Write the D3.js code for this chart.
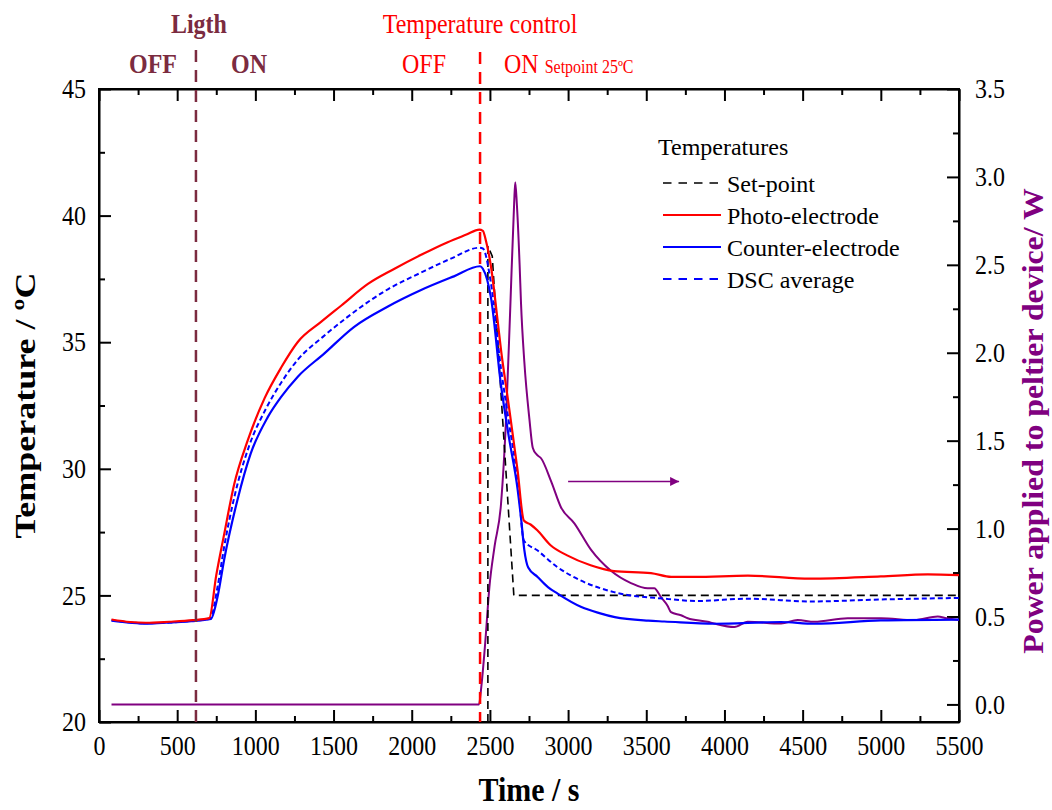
<!DOCTYPE html>
<html>
<head>
<meta charset="utf-8">
<script src="https://cdn.jsdelivr.net/npm/d3@7"></script>
<style>
  html, body { margin: 0; padding: 0; background: #fff; }
  svg { display: block; font-family: "Liberation Serif", "Times New Roman", serif; }
</style>
</head>
<body>
<svg id="chart" width="1052" height="810"></svg>
<script>
// ---- Photo-electrode temperature (°C) ----
const photoTime = [80, 200, 300, 450, 600, 705, 750, 800, 865, 950, 1060, 1165, 1270, 1420, 1550, 1720, 1890, 2060, 2230, 2350, 2432, 2455, 2475, 2507, 2549, 2571, 2613, 2677, 2717, 2760, 2803, 2888, 2994, 3144, 3293, 3530, 3660, 3810, 4150, 4550, 5000, 5300, 5500];
const photoTemp = [24.05, 23.95, 23.92, 23.96, 24.02, 24.1, 25.8, 27.4, 29.4, 31.1, 32.8, 34.0, 35.0, 35.8, 36.45, 37.3, 37.9, 38.45, 38.95, 39.25, 39.45, 39.4, 39.0, 37.98, 35.87, 34.7, 32.84, 29.94, 27.96, 27.8, 27.57, 26.98, 26.58, 26.19, 25.96, 25.88, 25.73, 25.73, 25.78, 25.66, 25.75, 25.83, 25.8];

// ---- Counter-electrode temperature (°C) ----
const counterTime = [80, 200, 310, 450, 590, 715, 760, 800, 885, 970, 1080, 1165, 1270, 1440, 1630, 1845, 2060, 2270, 2437, 2455, 2507, 2571, 2620, 2677, 2700, 2720, 2745, 2805, 2871, 2933, 3085, 3200, 3299, 3512, 3615, 3935, 4360, 4575, 5000, 5500];
const counterTemp = [24.0, 23.92, 23.88, 23.93, 23.98, 24.07, 25.0, 26.4, 28.76, 30.6, 32.05, 32.84, 33.63, 34.55, 35.6, 36.4, 37.06, 37.6, 38.0, 37.9, 36.75, 33.3, 31.3, 29.2, 28.0, 26.8, 26.1, 25.73, 25.33, 25.07, 24.54, 24.3, 24.14, 24.0, 23.97, 23.88, 23.95, 23.88, 24.01, 24.04];

// ---- DSC average temperature (°C) ----
const dscTime = [80, 300, 600, 710, 760, 800, 870, 960, 1070, 1165, 1270, 1430, 1590, 1850, 2060, 2250, 2432, 2455, 2505, 2570, 2620, 2680, 2717, 2803, 2931, 3080, 3293, 3615, 3830, 4150, 4550, 5000, 5500];
const dscTemp = [24.02, 23.9, 24.0, 24.08, 25.4, 26.9, 29.0, 30.9, 32.4, 33.4, 34.3, 35.2, 36.0, 37.1, 37.75, 38.3, 38.73, 38.7, 37.4, 34.0, 31.9, 29.4, 27.17, 26.78, 26.12, 25.59, 25.13, 24.87, 24.78, 24.87, 24.76, 24.84, 24.9];

// ---- Set-point (°C) ----
const setTime = [2487, 2487, 2515, 2653, 5500];
const setTemp = [20, 38.8, 38.4, 25, 25];

// ---- Power applied to the peltier device (W) ----
const powerTime = [80, 2430, 2445, 2470, 2497, 2530, 2571, 2603, 2630, 2655, 2662, 2672, 2690, 2699, 2720, 2753, 2774, 2800, 2827, 2891, 2955, 3040, 3146, 3274, 3402, 3509, 3551, 3594, 3637, 3658, 3722, 3765, 3892, 3935, 4063, 4149, 4362, 4468, 4575, 4788, 5002, 5215, 5364, 5420, 5500];
const powerW = [0, 0, 0.1, 0.35, 0.67, 0.9, 1.14, 1.62, 2.25, 2.85, 2.97, 2.85, 2.5, 2.28, 1.95, 1.62, 1.46, 1.42, 1.40, 1.27, 1.12, 1.03, 0.88, 0.76, 0.69, 0.66, 0.66, 0.61, 0.56, 0.525, 0.507, 0.49, 0.47, 0.46, 0.44, 0.47, 0.46, 0.48, 0.47, 0.49, 0.49, 0.48, 0.5, 0.49, 0.48];

// ---- Axes ticks ----
const xMajor = [0, 500, 1000, 1500, 2000, 2500, 3000, 3500, 4000, 4500, 5000, 5500];
const xMinor = [250, 750, 1250, 1750, 2250, 2750, 3250, 3750, 4250, 4750, 5250];
const yMajor = [20, 25, 30, 35, 40, 45];
const yMinor = [22.5, 27.5, 32.5, 37.5, 42.5];
const pMajor = [0, 0.5, 1, 1.5, 2, 2.5, 3, 3.5];
const pMinor = [0.25, 0.75, 1.25, 1.75, 2.25, 2.75, 3.25];

// ---- Event markers ----
const lightSwitchTime = 620;
const controlSwitchTime = 2437;
const legendItems = ["Set-point", "Photo-electrode", "Counter-electrode", "DSC average"];

const C = {
  red: "#ff0000", blue: "#0000ff", purple: "#800080", maroon: "#7b2b40", black: "#000"
};

const svg = d3.select("#chart");
const L = 99, R = 959, T = 89, B = 722;
const TALL = 1.12; // vertical stretch of the serif lettering

const x = d3.scaleLinear().domain([0, 5500]).range([L, R]);
const y = d3.scaleLinear().domain([20, 45]).range([B, T]);
const yP = d3.scaleLinear().domain([-0.1, 3.5]).range([B, T]);

const zip = (ts, vs) => ts.map((t, i) => [t, vs[i]]);

// Axes
function styleAxis(g) {
  g.selectAll("path.domain").attr("stroke", "#000").attr("stroke-width", 2);
  g.selectAll(".tick line").attr("stroke", "#000").attr("stroke-width", 2);
  g.selectAll("text").attr("font-family", "Liberation Serif").attr("font-size", 24).attr("fill", "#000")
    .attr("transform", `scale(1,${TALL})`);
}
function minorAxis(axisFn, scale, vals, transform) {
  svg.append("g").attr("transform", transform)
    .call(axisFn(scale).tickValues(vals).tickSize(-6).tickSizeOuter(0).tickFormat(""))
    .call(g => { g.select(".domain").remove(); g.selectAll(".tick line").attr("stroke", "#000").attr("stroke-width", 2); });
}

// bottom
svg.append("g").attr("transform", `translate(0,${B})`)
  .call(d3.axisBottom(x).tickValues(xMajor).tickSize(-12).tickSizeOuter(0).tickPadding(12).tickFormat(d3.format("d")))
  .call(styleAxis);
minorAxis(d3.axisBottom, x, xMinor, `translate(0,${B})`);
// top
svg.append("g").attr("transform", `translate(0,${T})`)
  .call(d3.axisTop(x).tickValues(xMajor).tickSize(-12).tickSizeOuter(0).tickFormat(""))
  .call(styleAxis);
minorAxis(d3.axisTop, x, xMinor, `translate(0,${T})`);
// left
svg.append("g").attr("transform", `translate(${L},0)`)
  .call(d3.axisLeft(y).tickValues(yMajor).tickSize(-12).tickSizeOuter(0).tickPadding(13).tickFormat(d3.format("d")))
  .call(styleAxis);
minorAxis(d3.axisLeft, y, yMinor, `translate(${L},0)`);
// right (power)
svg.append("g").attr("transform", `translate(${R},0)`)
  .call(d3.axisRight(yP).tickValues(pMajor).tickSize(-12).tickSizeOuter(0).tickPadding(16).tickFormat(d3.format(".1f")))
  .call(styleAxis);
minorAxis(d3.axisRight, yP, pMinor, `translate(${R},0)`);
// frame
svg.append("rect").attr("x", L).attr("y", T).attr("width", R - L).attr("height", B - T)
  .attr("fill", "none").attr("stroke", "#000").attr("stroke-width", 2);

// Clip for data
svg.append("clipPath").attr("id", "plot").append("rect")
  .attr("x", L).attr("y", T).attr("width", R - L).attr("height", B - T);
const plot = svg.append("g").attr("clip-path", "url(#plot)");

// Event lines (extend above the frame)
svg.append("line").attr("x1", x(lightSwitchTime)).attr("x2", x(lightSwitchTime))
  .attr("y1", 50).attr("y2", B).attr("stroke", C.maroon).attr("stroke-width", 2.5).attr("stroke-dasharray", "12,8");
svg.append("line").attr("x1", x(controlSwitchTime)).attr("x2", x(controlSwitchTime))
  .attr("y1", 52).attr("y2", B).attr("stroke", C.red).attr("stroke-width", 2.5).attr("stroke-dasharray", "12,8");

const lineT = d3.line().x(d => x(d[0])).y(d => y(d[1])).curve(d3.curveMonotoneX);
const lineP = d3.line().x(d => x(d[0])).y(d => yP(d[1])).curve(d3.curveMonotoneX);
const lineLin = d3.line().x(d => x(d[0])).y(d => y(d[1]));

plot.append("path").datum(zip(powerTime, powerW)).attr("d", lineP)
  .attr("fill", "none").attr("stroke", C.purple).attr("stroke-width", 2);
plot.append("path").datum(zip(setTime, setTemp)).attr("d", lineLin)
  .attr("fill", "none").attr("stroke", C.black).attr("stroke-width", 1.6).attr("stroke-dasharray", "8,5");
plot.append("path").datum(zip(counterTime, counterTemp)).attr("d", lineT)
  .attr("fill", "none").attr("stroke", C.blue).attr("stroke-width", 2.2);
plot.append("path").datum(zip(dscTime, dscTemp)).attr("d", lineT)
  .attr("fill", "none").attr("stroke", C.blue).attr("stroke-width", 2).attr("stroke-dasharray", "5,3");
plot.append("path").datum(zip(photoTime, photoTemp)).attr("d", lineT)
  .attr("fill", "none").attr("stroke", C.red).attr("stroke-width", 2.2);

// Arrow pointing to the power axis
svg.append("defs").append("marker").attr("id", "arrowHead")
  .attr("viewBox", "0 0 10 10").attr("refX", 10).attr("refY", 5)
  .attr("markerWidth", 17).attr("markerHeight", 9).attr("markerUnits", "userSpaceOnUse")
  .attr("orient", "auto")
  .append("path").attr("d", "M0,0 L10,5 L0,10 Z").attr("fill", C.purple);
svg.append("line").attr("x1", x(3000)).attr("x2", x(3710)).attr("y1", y(29.5)).attr("y2", y(29.5))
  .attr("stroke", C.purple).attr("stroke-width", 1.6).attr("marker-end", "url(#arrowHead)");

// Legend
const lg = svg.append("g");
lg.append("text").attr("x", 658).attr("y", 155).attr("font-size", 24).text("Temperatures");
const legendStyle = [
  { stroke: C.black, dash: "8.5,7", w: 1.6 },
  { stroke: C.red, dash: null, w: 2.2 },
  { stroke: C.blue, dash: null, w: 2.2 },
  { stroke: C.blue, dash: "8.5,7", w: 2 }
];
const rowY = [183, 215, 247, 279];
legendItems.forEach((name, i) => {
  const s = legendStyle[i];
  lg.append("line").attr("x1", 663).attr("x2", 721).attr("y1", rowY[i]).attr("y2", rowY[i])
    .attr("stroke", s.stroke).attr("stroke-width", s.w).attr("stroke-dasharray", s.dash);
  lg.append("text").attr("x", 727).attr("y", rowY[i] + 9).attr("font-size", 24).text(name);
});

// Axis titles
svg.append("text").attr("transform", `translate(${x(2750)},801) scale(1,${TALL})`).attr("text-anchor", "middle")
  .attr("font-size", 30).attr("font-weight", "bold").text("Time / s");
svg.append("text").attr("transform", `translate(35,${(T + B) / 2}) scale(1,1.2) rotate(-90)`).attr("text-anchor", "middle")
  .attr("font-size", 30).attr("font-weight", "bold").text("Temperature / ºC");
svg.append("text").attr("transform", `translate(1043,421) scale(1,1.06) rotate(-90)`).attr("text-anchor", "middle")
  .attr("font-size", 30).attr("font-weight", "bold").attr("fill", C.purple).text("Power applied to peltier device/ W");

// Top annotations
function topLabel(tx, ty, txt, opts) {
  return svg.append("text").attr("transform", `translate(${tx},${ty}) scale(1,${TALL})`)
    .attr("text-anchor", opts.anchor || "middle").attr("font-size", 24)
    .attr("font-weight", opts.bold ? "bold" : "normal").attr("fill", opts.fill).text(txt);
}
topLabel(x(lightSwitchTime) + 3, 33, "Ligth", { bold: true, fill: C.maroon });
topLabel(153, 73, "OFF", { bold: true, fill: C.maroon });
topLabel(249, 73, "ON", { bold: true, fill: C.maroon });
topLabel(x(controlSwitchTime), 33, "Temperature control", { fill: C.red });
topLabel(424, 73, "OFF", { fill: C.red });
const onTxt = topLabel(504, 73, "", { fill: C.red, anchor: "start" });
onTxt.append("tspan").text("ON");
onTxt.append("tspan").attr("font-size", 16).attr("dx", 6).text("Setpoint 25ºC");
</script>
</body>
</html>
